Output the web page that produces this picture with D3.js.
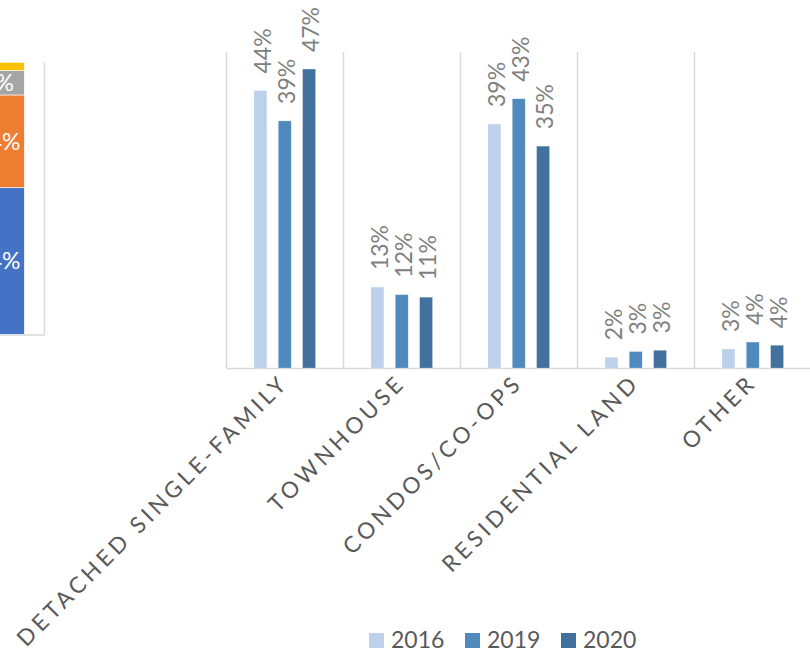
<!DOCTYPE html>
<html>
<head>
<meta charset="utf-8">
<script src="https://cdn.jsdelivr.net/npm/d3@7"></script>
<style>
  html, body { margin: 0; padding: 0; background: #fff; }
  svg { display: block; }
</style>
</head>
<body>
<svg id="chart" width="810" height="648"></svg>
<script>
// ---- Data ----
const categories = ["DETACHED SINGLE-FAMILY", "TOWNHOUSE", "CONDOS/CO-OPS", "RESIDENTIAL LAND", "OTHER"];
const years = ["2016", "2019", "2020"];
const values2016 = [43.9, 12.8, 38.6, 1.7, 3.0];
const values2019 = [39.1, 11.6, 42.6, 2.6, 4.1];
const values2020 = [47.3, 11.2, 35.1, 2.8, 3.6];
const yTicks = [0, 50];

// partial stacked bar visible at the left edge (neighbouring chart)
const leftSegments = ["seg1", "seg2", "seg3", "seg4"];
const leftValues = [54, 34, 9, 3];

// ---- Styles ----
const yearColors = ["#BDD1EA", "#4F89BE", "#41719C"];
const leftColors = ["#4472C4", "#ED7D31", "#A5A5A5", "#FFC000"];
const gridColor = "#D9D9D9";
const font = "Lato, 'Open Sans', sans-serif";

const svg = d3.select("#chart");

// ---- Left partial chart ----
const yLeft = d3.scaleLinear().domain([0, 100]).range([334.5, 62.3]);
const leftStackData = [Object.fromEntries(leftSegments.map((k, i) => [k, leftValues[i]]))];
const leftStack = d3.stack().keys(leftSegments)(leftStackData);
const gLeft = svg.append("g");
gLeft.append("line").attr("x1", 44.5).attr("x2", 44.5).attr("y1", yLeft(100)).attr("y2", yLeft(0))
  .attr("stroke", gridColor).attr("stroke-width", 1.5);
gLeft.append("line").attr("x1", -10).attr("x2", 45).attr("y1", yLeft(0) + 0.5).attr("y2", yLeft(0) + 0.5)
  .attr("stroke", gridColor).attr("stroke-width", 1.5);
leftStack.forEach((layer, i) => {
  const d = layer[0];
  gLeft.append("rect")
    .attr("x", -28).attr("width", 52.3)
    .attr("y", yLeft(d[1])).attr("height", yLeft(d[0]) - yLeft(d[1]))
    .attr("fill", leftColors[i]).attr("stroke", "#fff").attr("stroke-width", 0.6);
  if (leftValues[i] > 5) {
    gLeft.append("text")
      .attr("x", -2).attr("y", (yLeft(d[0]) + yLeft(d[1])) / 2)
      .attr("dy", "0.36em").attr("text-anchor", "middle")
      .attr("font-family", font).attr("font-size", 23).attr("fill", "#fff")
      .text(leftValues[i] + "%");
  }
});

// ---- Main grouped bar chart ----
const x0 = d3.scaleBand().domain(categories).range([226.5, 811.5]).padding(0);
const x1 = d3.scaleBand().domain(years).range([27.5, 89]).paddingInner(0.47);
const y = d3.scaleLinear().domain(d3.extent(yTicks)).range([368, 52]);

const series = [values2016, values2019, values2020];
const g = svg.append("g");

// vertical category separators
const bounds = categories.map(c => x0(c)).concat([x0.range()[1]]);
g.selectAll("line.sep").data(bounds).join("line")
  .attr("class", "sep")
  .attr("x1", d => d).attr("x2", d => d)
  .attr("y1", y(50)).attr("y2", y(0))
  .attr("stroke", gridColor).attr("stroke-width", 1.5);

// x axis baseline
g.append("line").attr("x1", x0.range()[0]).attr("x2", 810)
  .attr("y1", y(0) + 0.5).attr("y2", y(0) + 0.5)
  .attr("stroke", gridColor).attr("stroke-width", 1.5);

// bars
const cat = g.selectAll("g.cat").data(categories).join("g")
  .attr("class", "cat").attr("transform", d => `translate(${x0(d)},0)`);

cat.each(function(c, ci) {
  const gc = d3.select(this);
  years.forEach((yr, si) => {
    const v = series[si][ci];
    gc.append("rect")
      .attr("x", x1(yr)).attr("width", x1.bandwidth())
      .attr("y", y(v)).attr("height", y(0) - y(v))
      .attr("fill", yearColors[si])
      .attr("stroke", "#fff").attr("stroke-opacity", 0.35).attr("stroke-width", 0.6);
    const cx = x1(yr) + x1.bandwidth() / 2;
    gc.append("text")
      .attr("transform", `translate(${cx},${y(v) - 17}) rotate(-90)`)
      .attr("dy", "0.44em")
      .attr("text-anchor", "start")
      .attr("font-family", font).attr("font-size", 23).attr("fill", "#808080")
      .text(Math.round(v) + "%");
  });
});

// category labels (rotated)
g.selectAll("text.cat").data(categories).join("text")
  .attr("class", "cat")
  .attr("transform", d => `translate(${x0(d) + x0.bandwidth() / 2 + 5},${y(0) + 16}) rotate(-45)`)
  .attr("text-anchor", "end")
  .attr("font-family", font).attr("font-size", 22.5).attr("letter-spacing", "3.9px")
  .attr("fill", "#595959")
  .text(d => d);

// legend
const legendX = [369, 465, 561];
const legend = svg.append("g");
years.forEach((yr, i) => {
  legend.append("rect").attr("x", legendX[i]).attr("y", 633).attr("width", 15).attr("height", 15)
    .attr("fill", yearColors[i]);
  legend.append("text").attr("x", legendX[i] + 22).attr("y", 648)
    .attr("font-family", font).attr("font-size", 23).attr("fill", "#595959")
    .text(yr);
});
</script>
</body>
</html>
